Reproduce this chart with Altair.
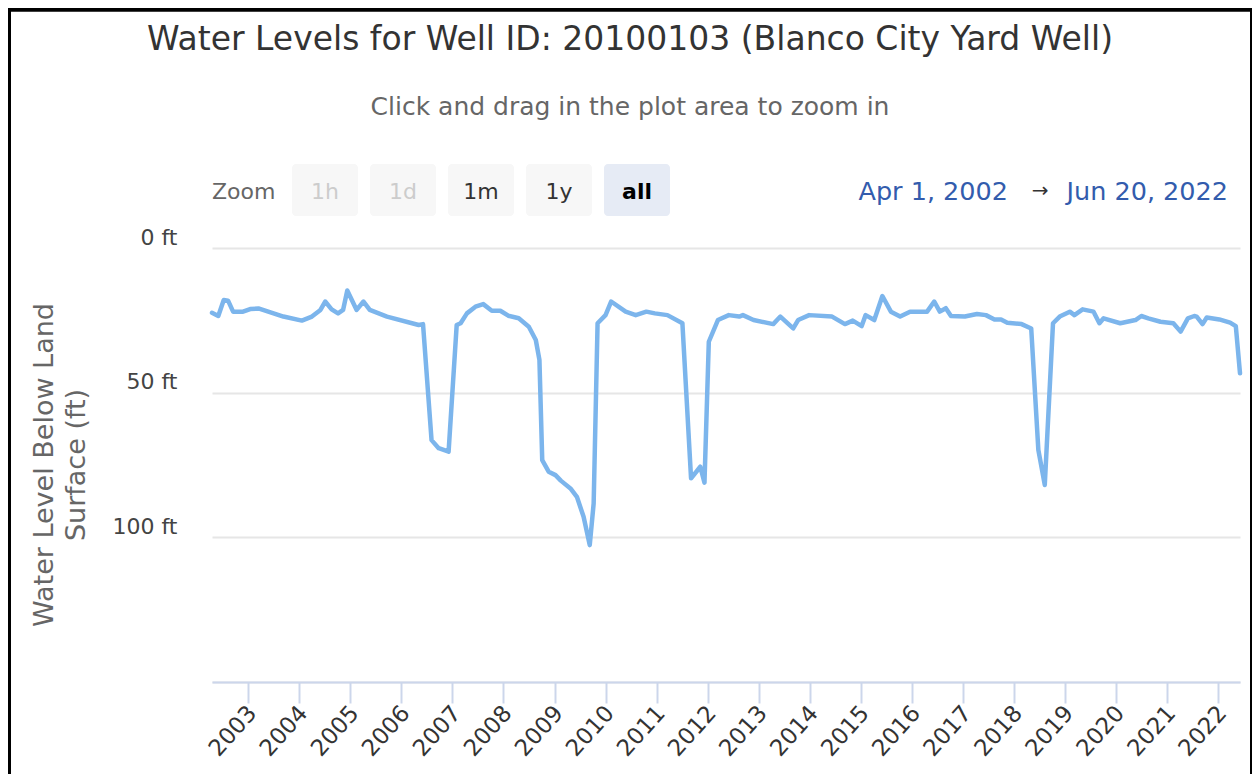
import altair as alt
import pandas as pd

# ---- data ----
dates = [
    "2002-04-17", "2002-06-01", "2002-07-10", "2002-08-10", "2002-09-15", "2002-11-25",
    "2003-01-15", "2003-03-15", "2003-09-10", "2004-01-20", "2004-04-01", "2004-06-01",
    "2004-07-05", "2004-08-20", "2004-10-05", "2004-11-10", "2004-12-10", "2005-02-15",
    "2005-04-05", "2005-05-20", "2005-09-20", "2006-05-05", "2006-06-05", "2006-08-05",
    "2006-09-25", "2006-12-05", "2007-02-01", "2007-03-01", "2007-04-15", "2007-06-15",
    "2007-08-10", "2007-10-10", "2007-12-10", "2008-02-05", "2008-04-20", "2008-07-01",
    "2008-08-20", "2008-09-15", "2008-10-05", "2008-11-20", "2009-01-08", "2009-02-15",
    "2009-04-25", "2009-06-10", "2009-07-28", "2009-09-10", "2009-10-08", "2009-11-05",
    "2010-01-01", "2010-02-10", "2010-05-25", "2010-08-05", "2010-10-20", "2010-12-20",
    "2011-03-20", "2011-07-05", "2011-09-05", "2011-11-10", "2011-12-10", "2012-01-10",
    "2012-03-15", "2012-06-01", "2012-08-15", "2012-09-10", "2012-11-25", "2013-04-15",
    "2013-06-05", "2013-09-05", "2013-10-10", "2013-12-28", "2014-06-10", "2014-09-10",
    "2014-11-05", "2015-01-08", "2015-02-05", "2015-04-08", "2015-06-05", "2015-08-05",
    "2015-10-10", "2015-12-20", "2016-04-01", "2016-04-20", "2016-06-10", "2016-07-20",
    "2016-09-01", "2016-10-08", "2017-01-15", "2017-04-12", "2017-06-15", "2017-08-15",
    "2017-10-01", "2017-11-15", "2018-02-25", "2018-05-05", "2018-06-25", "2018-08-10",
    "2018-10-08", "2018-11-25", "2019-02-05", "2019-03-10", "2019-05-08", "2019-07-25",
    "2019-09-05", "2019-10-05", "2020-02-01", "2020-05-20", "2020-07-01", "2020-08-20",
    "2020-11-15", "2021-02-15", "2021-04-08", "2021-05-30", "2021-07-15", "2021-08-01",
    "2021-09-12", "2021-10-12", "2022-01-10", "2022-03-28", "2022-05-08", "2022-06-07",
]
levels = [
    22.4, 23.5, 18.0, 18.2, 22.0, 22.0,
    21.1, 20.9, 23.7, 25.1, 23.7, 21.4,
    18.5, 21.2, 22.6, 21.4, 14.7, 21.4,
    18.5, 21.4, 23.7, 26.6, 26.3, 66.4,
    69.2, 70.4, 26.6, 26.0, 22.6, 20.3,
    19.4, 21.7, 21.7, 23.4, 24.3, 27.2,
    31.8, 38.7, 73.3, 77.3, 78.5, 80.4,
    83.1, 86.0, 92.9, 102.7, 88.3, 26.0,
    23.2, 18.5, 22.0, 23.2, 22.0, 22.6,
    23.2, 26.0, 79.6, 75.6, 81.1, 32.4,
    24.9, 23.2, 23.7, 23.2, 24.9, 26.3,
    23.7, 27.8, 24.9, 23.2, 23.7, 26.3,
    25.1, 27.0, 23.2, 24.9, 16.6, 22.0,
    23.7, 22.0, 22.0, 22.0, 18.5, 22.0,
    20.8, 23.5, 23.7, 22.8, 23.2, 24.7,
    24.7, 25.8, 26.3, 27.8, 69.8, 81.9,
    26.0, 23.7, 22.0, 23.2, 21.2, 22.0,
    26.0, 24.3, 26.0, 24.9, 23.5, 24.3,
    25.5, 26.0, 28.9, 24.3, 23.5, 23.7,
    26.3, 24.0, 24.7, 25.8, 27.0, 43.3,
]
tick_years = list(range(2003, 2023))
y_ticks = [0, 50, 100, 150]

title_text = "Water Levels for Well ID: 20100103 (Blanco City Yard Well)"
subtitle_text = "Click and drag in the plot area to zoom in"
y_title_lines = ["Water Level Below Land", "Surface (ft)"]
buttons = ["1h", "1d", "1m", "1y", "all"]
range_from = "Apr 1, 2002"
range_to = "Jun 20, 2022"

df = pd.DataFrame({"date": dates, "level": levels})
one = pd.DataFrame({"k": [0]})

FONT = "DejaVu Sans"
PX, PY = 212, 248          # page position of the plot origin
W, H = 1028, 434


def px(x):
    return x - PX


def py(y):
    return y - PY


def text(s, x, y, size, color, align="center", baseline="middle", weight="normal", angle=0):
    return alt.Chart(one).mark_text(
        text=s, fontSize=size, color=color, align=align, baseline=baseline,
        font=FONT, fontWeight=weight, angle=angle
    ).encode(x=alt.value(px(x)), y=alt.value(py(y)))


def rect(x1, x2, y1, y2, fill, r=4):
    return alt.Chart(one).mark_rect(color=fill, cornerRadius=r).encode(
        x=alt.value(px(x1)), x2=alt.value(px(x2)),
        y=alt.value(py(y1)), y2=alt.value(py(y2))
    )


def rule(x1, x2, y1, y2, w, color="black"):
    return alt.Chart(one).mark_rule(color=color, strokeWidth=w).encode(
        x=alt.value(px(x1)), x2=alt.value(px(x2)),
        y=alt.value(py(y1)), y2=alt.value(py(y2))
    )


line = alt.Chart(df).mark_line(
    color="#7cb5ec", strokeWidth=4.5, strokeJoin="round", strokeCap="round"
).encode(
    x=alt.X(
        "date:T",
        scale=alt.Scale(
            type="utc", nice=False,
            domain=[alt.DateTime(year=2002, month=4, date=17, utc=True),
                    alt.DateTime(year=2022, month=6, date=7, utc=True)],
        ),
        axis=alt.Axis(
            values=[alt.DateTime(year=y, month=1, date=1, utc=True) for y in tick_years],
            format="%Y", title=None, grid=False,
            domainColor="#ccd6eb", domainWidth=2,
            tickColor="#ccd6eb", tickWidth=2, tickSize=21,
            labelAngle=-48, labelAlign="right", labelBaseline="middle",
            labelPadding=6, labelFontSize=23, labelColor="#333333", labelFont=FONT,
            labelOverlap=False, labelOffset=4,
        ),
    ),
    y=alt.Y(
        "level:Q",
        scale=alt.Scale(domain=[0, 150], reverse=True, nice=False, zero=False),
        axis=alt.Axis(
            values=y_ticks,
            labelExpr="datum.value < 150 ? datum.value + ' ft' : ''",
            title=None, grid=True, gridColor="#e6e6e6", gridWidth=2,
            domain=False, ticks=False, tickSize=0, labelPadding=35,
            labelFontSize=22, labelColor="#444444", labelFont=FONT,
            labelBaseline="alphabetic", labelOffset=-4,
        ),
    ),
)

decor = [
    # frame
    rule(8, 1262, 9.75, 9.75, 4),
    rule(9, 9, 8, 790, 4),
    rule(1251, 1251, 8, 790, 2),
    # titles
    text(title_text, 630, 40, 33, "#333333"),
    text(subtitle_text, 630, 107, 25, "#666666"),
    # y axis title
    text(y_title_lines[0], 45, 465, 27, "#666666", angle=270),
    text(y_title_lines[1], 77, 465, 27, "#666666", angle=270),
    # range selector
    text("Zoom", 212, 192, 22, "#666666", align="left"),
]
bx = [(292, 358), (370, 436), (448, 514), (526, 592), (604, 670)]
bfill = ["#f7f7f7", "#f7f7f7", "#f7f7f7", "#f7f7f7", "#e6ebf5"]
bcol = ["#cccccc", "#cccccc", "#333333", "#333333", "#000000"]
bwt = ["normal", "normal", "normal", "normal", "bold"]
for lab, (a, b), f, c, wt in zip(buttons, bx, bfill, bcol, bwt):
    decor.append(rect(a, b, 164, 216, f))
    decor.append(text(lab, (a + b) / 2, 192, 22, c, weight=wt))

decor += [
    text(range_from, 1008, 192, 25.5, "#335cad", align="right"),
    text("\u2192", 1040, 191, 20, "#333333"),
    text(range_to, 1228, 192, 25.5, "#335cad", align="right"),
]

chart = alt.layer(line, *decor).properties(
    width=W, height=H,
    autosize=alt.AutoSizeParams(type="none"),
    padding={"left": 204, "top": 240, "right": 12, "bottom": 92},
    background="white",
).configure_view(stroke=None)

chart.save("out.html", embed_options={"renderer": "svg", "actions": False})
